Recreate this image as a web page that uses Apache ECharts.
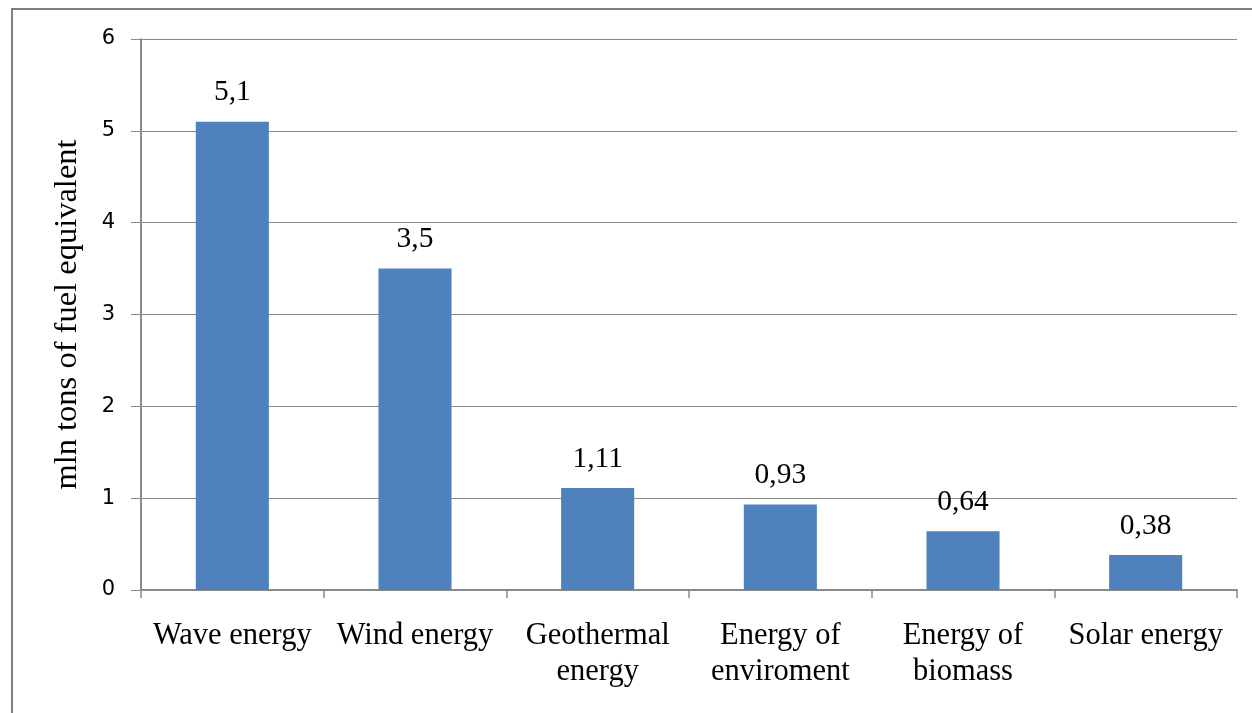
<!DOCTYPE html>
<html>
<head>
<meta charset="utf-8">
<script src="https://cdn.jsdelivr.net/npm/echarts@6/dist/echarts.min.js"></script>
<style>
html, body { margin: 0; padding: 0; background: #fff; }
#chart { width: 1252px; height: 713px; }
</style>
</head>
<body>
<div id="chart"></div>
<script>
const categories = ['Wave energy', 'Wind energy', 'Geothermal\nenergy', 'Energy of\nenviroment', 'Energy of\nbiomass', 'Solar energy'];
const values = [5.1, 3.5, 1.11, 0.93, 0.64, 0.38];
const yTicks = [0, 1, 2, 3, 4, 5, 6];
const yName = 'mln tons of fuel equivalent';

const serif = '"Liberation Serif", "Times New Roman", serif';
const gray = '#8a8a8a';

const chart = echarts.init(document.getElementById('chart'));
chart.setOption({
    animation: false,
    backgroundColor: '#fff',
    graphic: [{
        type: 'rect',
        shape: {x: 12, y: 9, width: 1400, height: 900},
        style: {fill: 'none', stroke: '#808080', lineWidth: 2},
        silent: true
    }],
    grid: {left: 141, top: 39, right: 15, bottom: 123},
    xAxis: {
        type: 'category',
        data: categories,
        axisLine: {lineStyle: {color: gray, width: 2}},
        axisTick: {show: true, length: 8, lineStyle: {color: gray, width: 1.5}},
        axisLabel: {
            interval: 0,
            margin: 28,
            fontFamily: serif,
            fontSize: 30.5,
            lineHeight: 36,
            color: '#000'
        }
    },
    yAxis: {
        type: 'value',
        min: yTicks[0],
        max: yTicks[yTicks.length - 1],
        interval: 1,
        name: yName,
        nameLocation: 'middle',
        nameGap: 57,
        nameTextStyle: {fontFamily: serif, fontSize: 32.5, color: '#000'},
        axisLine: {show: true, lineStyle: {color: gray, width: 2}},
        axisTick: {show: true, length: 10, lineStyle: {color: gray}},
        splitLine: {lineStyle: {color: gray, width: 1}},
        axisLabel: {
            margin: 26,
            fontFamily: '"DejaVu Sans", Verdana, sans-serif',
            fontSize: 21,
            color: '#000'
        }
    },
    series: [{
        type: 'bar',
        data: values,
        barWidth: '40%',
        itemStyle: {color: '#4F81BD'},
        label: {
            show: true,
            position: 'top',
            distance: 14,
            fontFamily: serif,
            fontSize: 29.5,
            color: '#000',
            formatter: p => String(p.value).replace('.', ',')
        }
    }]
});
</script>
</body>
</html>
